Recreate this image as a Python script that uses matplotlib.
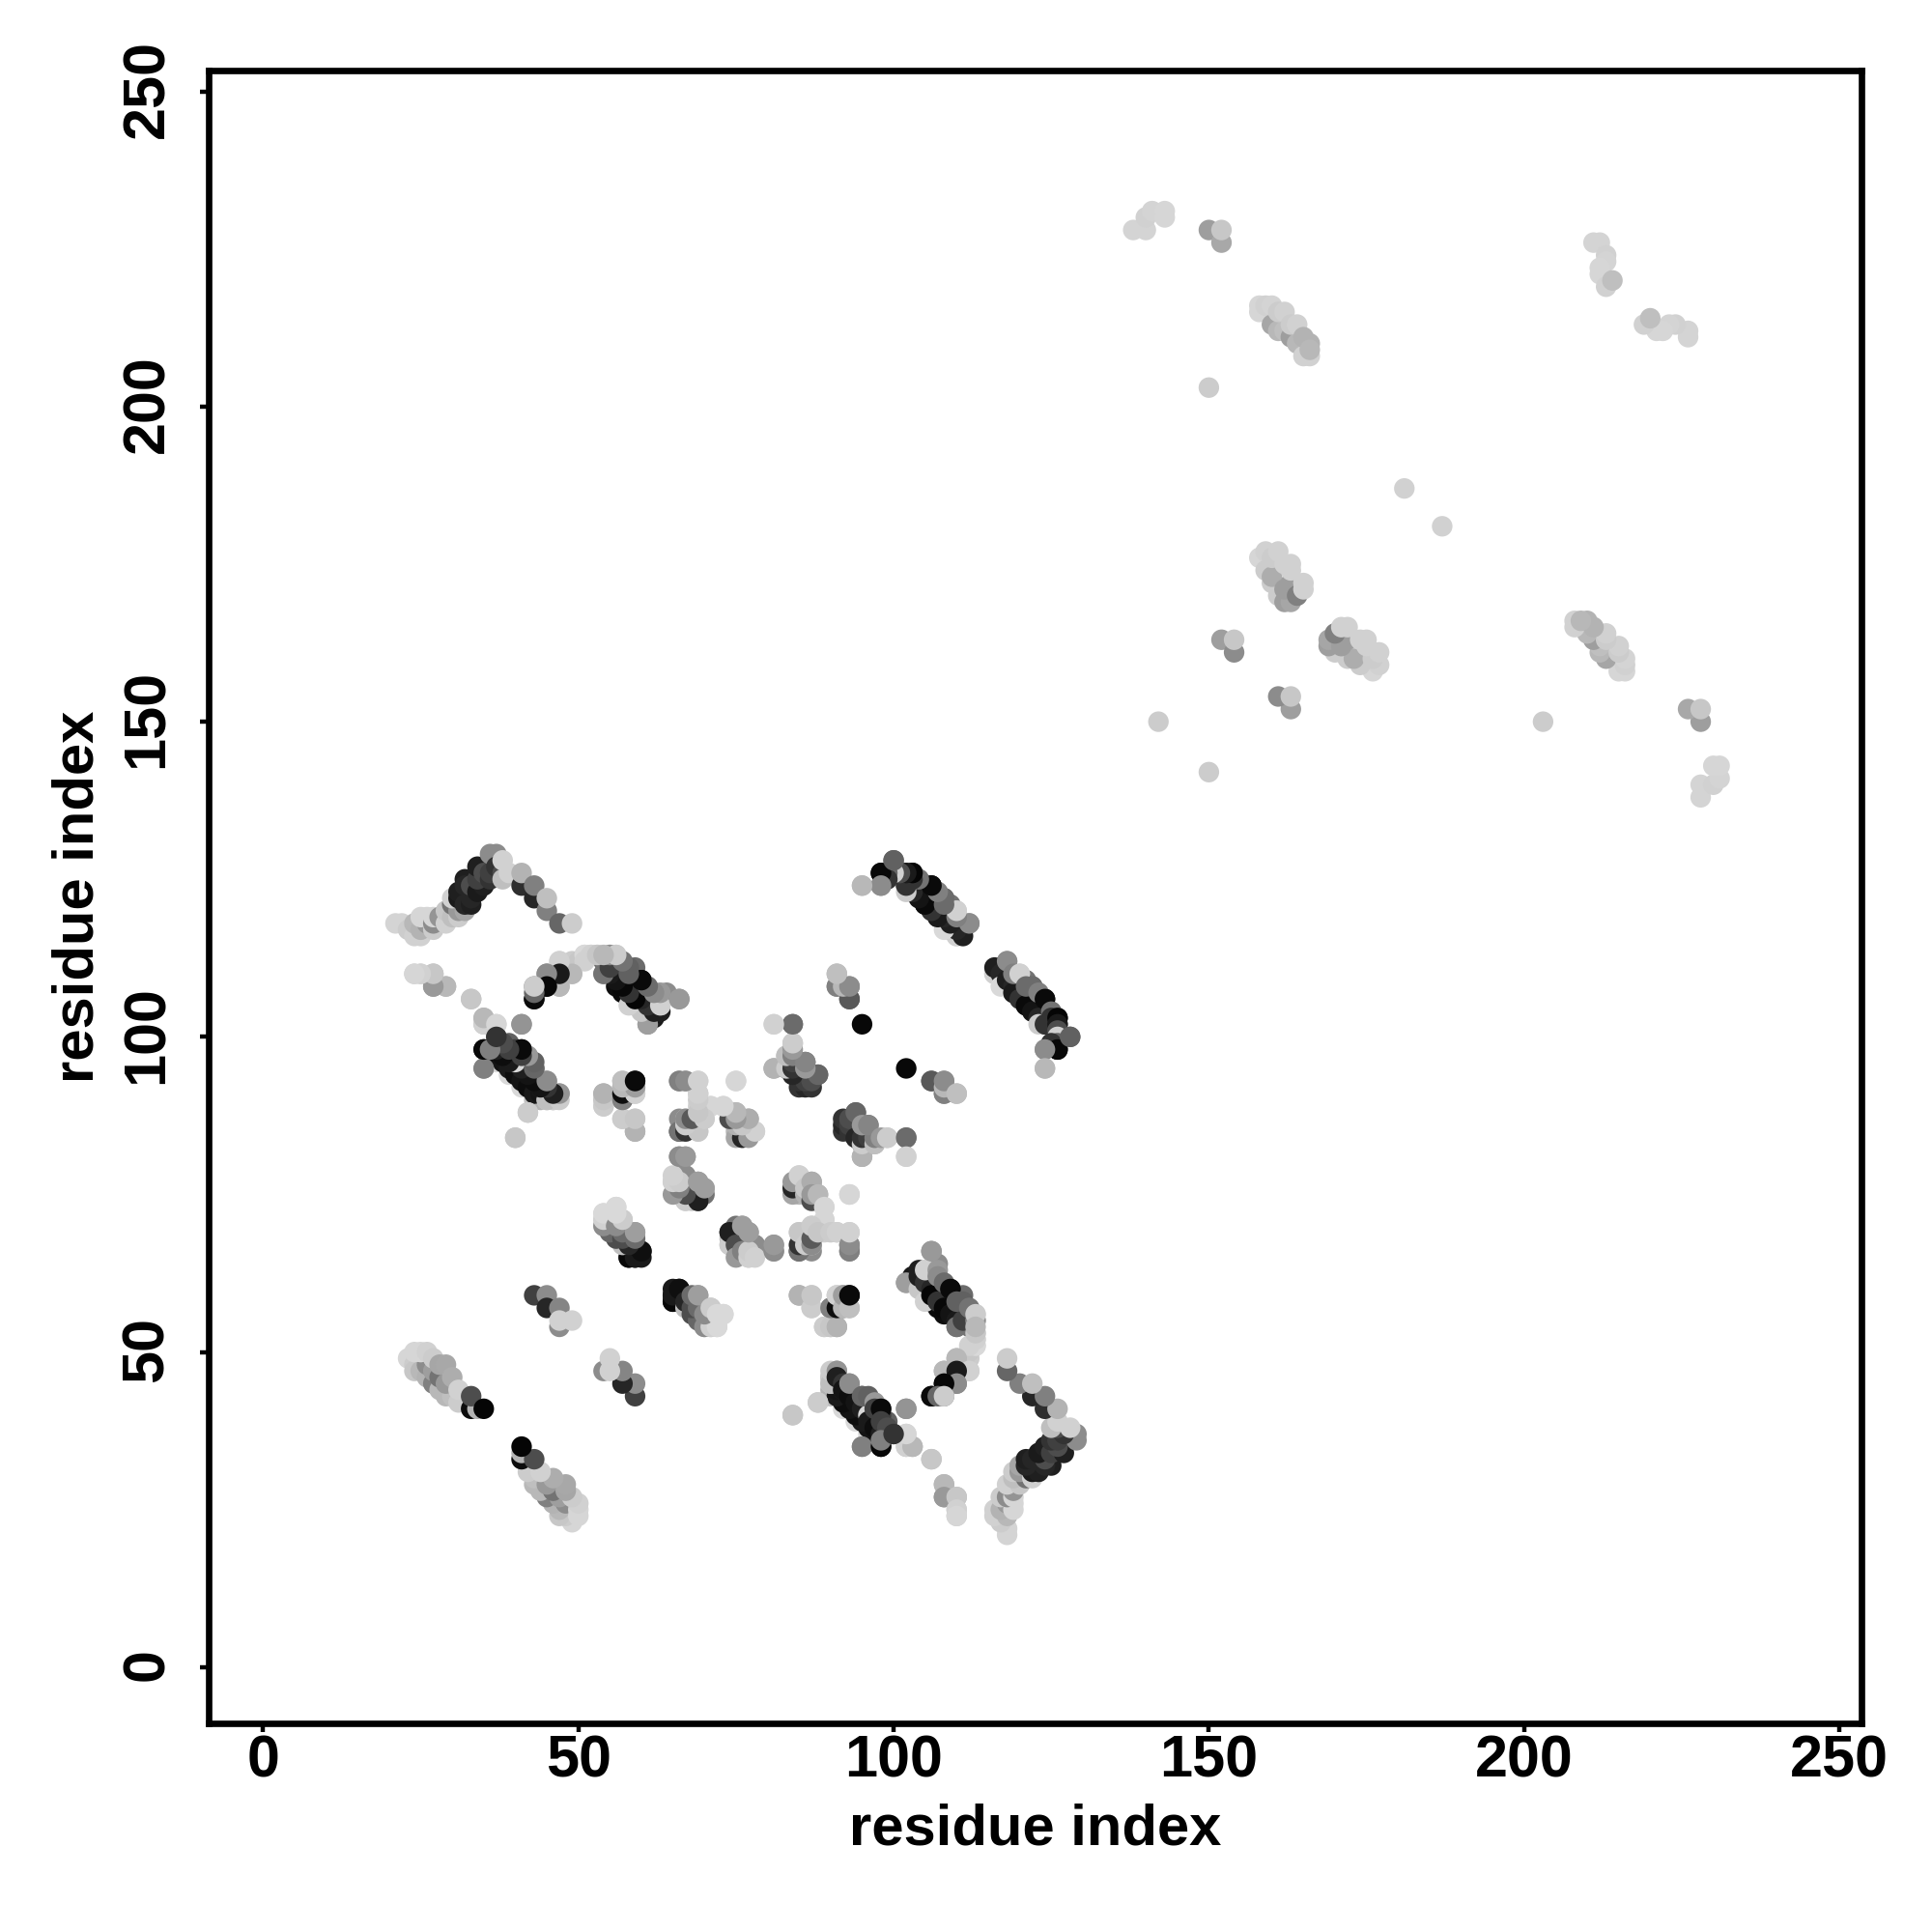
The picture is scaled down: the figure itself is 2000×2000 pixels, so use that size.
import matplotlib
matplotlib.use('Agg')
import matplotlib.pyplot as plt
from matplotlib.transforms import ScaledTranslation

# contactos (i, j, gris) con i < j, el mapa es simetrico
banda_a = [(21,118,.83),(22,118,.83),(23,117,.8),(24,116,.82),(25,116,.82),(24,118,.72),(25,117,.7),(26,118,.6),
           (27,117,.8),(25,119,.84),(26,119,.84),(27,118,.55),(27,119,.84),(28,119,.58),(29,118,.82),(29,120,.78),
           (30,119,.75),(31,119,.8),(30,121,.45),(31,120,.6),(32,120,.65),(30,122,.82),(31,122,.1),(31,123,.12),
           (32,121,.15),(33,121,.12),(33,122,.15),(32,125,.12),(32,124,.15),(33,124,.3),(34,123,.1),(35,124,.12),
           (34,125,.25),(34,127,.12),(35,126,.3),(36,125,.2),(36,126,.25),(36,129,.55),(37,129,.55),(37,127,.2),
           (38,126,.3),(38,125,.75),(38,128,.82),(39,126,.82),(41,124,.18),(41,126,.7),(43,122,.15),(43,124,.5),
           (45,120,.5),(45,122,.75),(47,118,.4),(49,118,.8)]
sueltos_b = [(24,110,.8),(25,110,.82),(27,108,.6),(27,110,.72),(29,108,.72),(33,106,.76),(35,102,.75),(35,103,.68),
             (37,102,.82),(41,102,.55)]
banda_c = [(35,98,.05),(35,95,.55),(36,98,.5),(37,96,.85),(39,94,.85),(41,92,.85),(43,90,.75),(44,90,.7),(46,90,.78),
           (37,97,.05),(38,96,.08),(39,95,.1),(40,94,.05),(41,93,.08),(42,92,.05),(43,91,.1),(44,91,.08),
           (37,100,.3),(37,99,.28),(38,98,.3),(39,97,.3),(39,99,.38),(40,98,.25),(41,96,.55),(41,98,.03),(42,95,.4),
           (43,95,.38),(44,92,.15),(44,93,.58),(45,93,.62),(46,91,.62),(47,91,.64),(45,90,.82)]
sueltos_d = [(42,88,.78),(40,84,.75)]
banda_e = [(43,106,.04),(43,108,.5),(44,108,.82),(45,108,.03),(45,110,.55),(47,108,.72),(47,110,.1),(49,110,.72),
           (47,112,.84),(49,111,.8),(49,112,.8),(50,112,.84),(51,113,.84),(52,113,.84),(53,113,.82),(54,110,.55),
           (54,112,.45),(55,113,.78),(55,112,.55),(55,111,.3),(56,109,.82),(56,108,.05),(57,107,.04),(58,106,.05),
           (59,106,.03),(60,105,.05),(61,102,.55),(61,104,.2),(62,103,.1),(57,110,.38),(58,109,.3),(59,108,.25),
           (60,107,.3),(61,106,.25),(62,105,.2),(63,104,.12),(56,113,.82),(57,111,.42),(59,111,.42),(60,109,.05),
           (61,107,.42),(62,107,.55),(64,107,.55),(63,105,.8),(66,106,.55)]
grupo_f = [(54,89,.8),(54,90,.75),(54,91,.66),(57,90,.5),(57,91,.1),(59,91,.8),(57,92,.55),(59,92,.65),(57,93,.74),
           (59,93,.03),(57,87,.82),(59,85,.65),(59,87,.8)]
grupo_g = [(66,93,.55),(67,93,.55),(69,93,.83),(69,91,.8),(69,89,.82),(66,85,.3),(66,87,.55),(67,85,.8),(68,86,.2),
           (67,87,.78),(68,87,.8),(69,85,.82),(70,87,.8),(71,89,.84),(73,89,.84),(74,87,.76),(75,93,.83),(75,86,.2),
           (75,85,.72),(75,88,.7),(76,85,.8),(76,87,.7),(77,85,.15),(77,87,.66),(78,85,.82)]
grupo_h = [(66,81,.55),(67,81,.6),(65,77,.82),(66,75,.45),(67,74,.8),(68,74,.75),(68,75,.2),(69,74,.2),(66,76,.3),
           (67,76,.4),(66,78,.55),(67,78,.55),(68,77,.55),(69,75,.3),(70,75,.45),(69,77,.62),(70,76,.6)]
grupo_i = [(54,70,.72),(54,71,.8),(55,71,.75),(55,72,.82),(56,69,.55),(56,70,.4),(57,68,.45),(58,67,.5),(59,66,.05),
           (57,70,.55),(58,65,.1),(59,65,.03),(60,65,.1),(54,72,.82),(56,73,.85),(57,71,.78),(58,69,.5),(59,69,.62),
           (59,67,.3),(60,66,.08)]
grupo_j = [(43,59,.25),(45,59,.55),(45,57,.15),(47,57,.52),(47,54,.55),(47,55,.82),(49,55,.82)]
grupo_k = [(65,58,.03),(65,59,.1),(66,60,.06),(67,57,.75),(68,56,.3),(69,55,.4),(70,54,.55),(71,54,.82),(72,54,.85),
           (67,58,.15),(68,57,.3),(69,57,.42),(70,56,.55),(68,59,.42),(69,59,.62),(71,57,.8),(72,56,.85),(73,56,.85)]
banda_l = [(23,49,.84),(24,48,.8),(24,47,.78),(25,47,.72),(26,46,.7),(27,45,.5),(28,44,.72),(29,43,.72),(30,43,.75),
           (31,42,.8),(26,48,.55),(27,47,.62),(28,46,.45),(29,45,.6),(24,50,.84),(25,50,.84),(26,50,.82),(27,49,.8),
           (28,48,.65),(29,48,.66),(30,46,.68),(31,44,.82),(33,41,.05),(34,41,.7),(33,43,.3),(35,41,.02)]
banda_l2 = [(90,46,.8),(90,45,.75)]
grupo_n = [(81,95,.65),(83,97,.75),(84,99,.78),(84,97,.55),(83,95,.2),(84,94,.12),(85,93,.15),(85,92,.2),(86,92,.15),
           (87,92,.2),(84,95,.35),(85,95,.3),(86,94,.35),(86,96,.45),(87,94,.3),(88,94,.4),(81,102,.84),(84,102,.42)]
grupo_o = [(84,75,.65),(84,76,.15),(84,77,.6),(85,78,.82),(86,75,.7),(86,76,.78),(87,77,.68),(87,74,.3),(87,75,.6),
           (88,75,.72),(89,71,.84),(89,73,.84),(93,75,.84)]
grupo_p = [(78,66,.6),(78,67,.55),(74,67,.8),(74,69,.12),(75,67,.3),(75,65,.6),(76,66,.5),(76,70,.62),(77,65,.82),
           (77,66,.8),(77,69,.62),(78,65,.82),(81,66,.55),(81,67,.6),(85,66,.45),(85,67,.2),(85,69,.78),(86,67,.8),
           (87,67,.55),(87,68,.35),(87,70,.8),(88,69,.78),(90,69,.8),(91,69,.82),(93,66,.5),(93,67,.55),(93,69,.82)]
grupo_q = [(85,59,.7),(87,57,.8),(87,59,.78),(89,54,.8),(90,54,.78),(91,54,.7),(90,57,.5),(91,57,.05),(91,59,.82),
           (92,57,.72),(92,59,.62),(93,57,.75),(93,59,.04)]
grupo_r = [(91,108,.55),(91,110,.72),(92,108,.8),(93,106,.35),(93,108,.55),(95,102,.03)]
grupo_s = [(93,85,.2),(93,86,.25),(93,87,.3),(94,84,.15),(95,81,.7),(95,83,.8),(95,84,.2),(96,84,.25),(97,83,.75),
           (97,84,.5),(94,88,.4),(95,86,.6),(96,86,.52),(98,84,.6),(99,84,.8),(102,84,.42),(102,81,.82)]
grupo_t = [(106,93,.35),(108,91,.5),(108,92,.72),(108,93,.55),(110,91,.75)]
banda_u = [(95,124,.75),(98,124,.6),(98,126,.03),(99,126,.45),(100,126,.05),(101,126,.82),(100,128,.42),(102,124,.2),
           (102,125,.1),(102,126,.25),(103,123,.72),(103,126,.04),(104,125,.45),(104,123,.08),(105,122,.05),(105,121,.03),
           (106,124,.02),(106,123,.2),(107,120,.15),(107,119,.2),(108,120,.2),(108,119,.12),(109,118,.12),(109,117,.3),
           (110,117,.15),(110,116,.82),(111,117,.2),(107,122,.42),(108,122,.42),(109,121,.45),(110,120,.82),(111,118,.6),
           (112,118,.62)]
banda_v = [(102,61,.62),(104,60,.78),(105,58,.82),(104,62,.12),(105,61,.2),(106,60,.15),(106,59,.02),(107,58,.2),
           (108,57,.03),(109,56,.08),(110,55,.1),(110,54,.45),(111,55,.25),(105,63,.82),(106,66,.6),(107,63,.6),
           (107,62,.55),(108,61,.42),(109,60,.04),(110,58,.38),(111,58,.38),(112,57,.45),(113,55,.55),(113,56,.8),
           (112,50,.78),(113,51,.85),(112,51,.82),(113,52,.82),(113,53,.78),(113,54,.72),(110,49,.72),(112,47,.82),
           (108,47,.72),(110,47,.1),(110,45,.55),(108,45,.03),(106,43,.04),(107,43,.4),(108,43,.8)]
banda_w = [(116,110,.82),(116,111,.12),(117,110,.15),(117,108,.85),(118,109,.12),(119,108,.15),(119,107,.1),(120,106,.2),
           (121,105,.04),(122,104,.08),(123,103,.15),(123,102,.8),(124,102,.2),(118,112,.55),(119,110,.5),(120,110,.82),
           (121,108,.42),(122,108,.42),(123,107,.5),(124,106,.04),(125,104,.45),(125,103,.2),(126,103,.02),(126,102,.1),
           (126,101,.3),(126,100,.82),(126,99,.4),(125,99,.2),(126,98,.03),(124,98,.55),(124,95,.72),(128,100,.38)]
sueltos_x = [(88,42,.8),(84,40,.78),(95,35,.5),(102,41,.58),(102,35,.82),(103,35,.72),(102,37,.84),(106,33,.78),(108,29,.72),
             (108,27,.6),(110,27,.78),(110,25,.82),(110,24,.84)]
banda_y = [(90,47,.8),(91,47,.58),(91,46,.12),(92,45,.2),(92,44,.08),(93,43,.05),(94,42,.08),(93,45,.55),(95,41,.12),
           (96,40,.85),(96,39,.1),(97,38,.05),(98,37,.12),(95,43,.4),(96,43,.38),(97,42,.6),(97,41,.25),(98,41,.04),
           (98,39,.25),(99,38,.3),(98,35,.03),(98,36,.5),(100,37,.2)]
arriba_a = [(138,228,.83),(140,228,.83),(140,230,.82),(141,231,.83),(143,231,.84),(143,230,.84),(150,228,.62),
            (152,226,.66),(152,228,.78)]
arriba_b = [(150,203,.8),(142,150,.8),(181,187,.82)]
arriba_c = [(158,215,.84),(158,216,.84),(159,216,.82),(160,213,.65),(161,212,.72),(162,212,.75),(163,211,.62),(164,210,.72),
            (165,208,.82),(166,208,.82),(160,216,.83),(161,215,.8),(162,215,.82),(163,213,.8),(164,213,.82),(165,211,.7),
            (166,210,.7),(166,209,.72)]
arriba_d = [(158,176,.84),(159,174,.8),(160,172,.8),(161,170,.8),(162,169,.62),(163,169,.65),(160,173,.68),(162,171,.62),
            (163,172,.62),(164,170,.5),(159,177,.82),(160,176,.8),(161,177,.82),(162,175,.82),(163,175,.82),(163,174,.82),
            (165,171,.82),(165,172,.82)]
arriba_e = [(152,163,.62),(154,161,.55),(154,163,.78)]
arriba_f = [(211,226,.83),(212,226,.83),(213,224,.82),(213,223,.83),(212,222,.84),(212,221,.84),(213,219,.82),(214,220,.75)]

grupos = [banda_a, sueltos_b, banda_c, sueltos_d, banda_e, grupo_f, grupo_g, grupo_h, grupo_i, grupo_j, grupo_k,
          banda_l, banda_l2, grupo_n, grupo_o, grupo_p, grupo_q, grupo_r, grupo_s, grupo_t, banda_u, banda_v,
          banda_w, sueltos_x, banda_y, arriba_a, arriba_b, arriba_c, arriba_d, arriba_e, arriba_f]

plt.rcParams['font.family'] = ['Liberation Sans', 'DejaVu Sans']
plt.rcParams['font.weight'] = 'bold'

fig = plt.figure(figsize=(20, 20), dpi=100)
ax = fig.add_axes([216 / 2000, 1 - 1784 / 2000, (1927 - 216) / 2000, (1784 - 73) / 2000])

for grupo in grupos:
    xs = [p[0] for p in grupo] + [p[1] for p in grupo]
    ys = [p[1] for p in grupo] + [p[0] for p in grupo]
    grises = [str(p[2]) for p in grupo] * 2
    ax.scatter(xs, ys, c=grises, s=235, linewidths=0)

ax.set_xlim(-8.63, 253.5)
ax.set_ylim(-8.9, 253.3)
ax.set_xticks([0, 50, 100, 150, 200, 250])
ax.set_yticks([0, 50, 100, 150, 200, 250])
ax.tick_params(length=6.5, width=3.2, labelsize=44, pad=2)
ax.tick_params(axis='y', pad=18)
plt.setp(ax.get_yticklabels(), rotation=90, va='center')
# las etiquetas giradas quedan un poco bajas
for etiqueta in ax.get_yticklabels():
    etiqueta.set_transform(etiqueta.get_transform() + ScaledTranslation(0, 2 / 72, fig.dpi_scale_trans))
for s in ax.spines.values():
    s.set_linewidth(4.8)
ax.set_xlabel('residue index', fontsize=43, fontweight='bold', labelpad=10)
ax.set_ylabel('residue index', fontsize=43, fontweight='bold', labelpad=12)

fig.savefig('out.png', dpi=100)
